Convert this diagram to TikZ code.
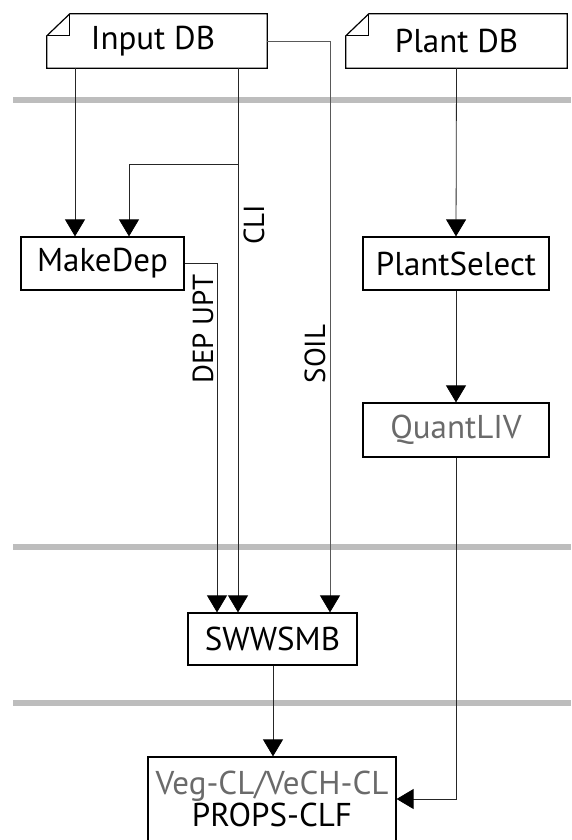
\documentclass[tikz,border=0pt]{standalone}
\usepackage{fontspec}
\setmainfont{PT Sans}
\usetikzlibrary{arrows.meta}
\definecolor{bargray}{HTML}{BDBDBD}
\definecolor{txtgray}{HTML}{6A6A6A}
\begin{document}
\begin{tikzpicture}[x=1pt,y=-1pt,
  boxtext/.style={font=\fontsize{33}{36}\selectfont},
  box/.style={boxtext, draw, line width=1.2pt, inner sep=0pt, align=center},
  dbnode/.style={boxtext, inner sep=0pt},
  lbl/.style={font=\fontsize{29}{32}\selectfont, rotate=90, inner sep=0pt},
  conn/.style={line width=0.8pt, draw=black!85},
  arr/.style={conn, -{Triangle[width=20pt,length=17pt,color=black]}},
  bar/.style={draw=bargray, line width=6pt}
]
\useasboundingbox (0,0) rectangle (571,840);
\clip (0,0) rectangle (571,840);

% separator bars
\draw[bar] (13,100) -- (571,100);
\draw[bar] (13,547) -- (571,547);
\draw[bar] (13,703) -- (571,703);

% column coordinates
\coordinate (cA) at (75,0);
\coordinate (cB) at (129,0);
\coordinate (cDEP) at (217,0);
\coordinate (cCLI) at (238,0);
\coordinate (cSOIL) at (330,0);
\coordinate (cS) at (273,0);
\coordinate (rCLI) at (0,164);

% database nodes (folded-corner documents)
\node[dbnode, minimum width=220pt, minimum height=54pt] (indb) at (157,41) {\hspace*{-8pt}Input DB};
\node[dbnode, minimum width=221pt, minimum height=54pt] (pldb) at (456.5,41) {Plant DB};
\foreach \n in {indb,pldb}{
  \draw[line width=1.2pt, line join=miter]
    ([xshift=23pt]\n.north west) -- (\n.north east) -- (\n.south east) -- (\n.south west)
    -- ([yshift=-22pt]\n.north west) -- cycle;
  \draw[line width=1.2pt]
    ([yshift=-22pt]\n.north west) -- ([xshift=23pt,yshift=-22pt]\n.north west) -- ([xshift=23pt]\n.north west);
}

% process boxes
\node[box, minimum width=163pt, minimum height=53pt] (makedep) at (102.5,263.5) {MakeDep};
\node[box, minimum width=186pt, minimum height=53pt] (plantsel) at (456,263.5) {PlantSelect};
\node[box, minimum width=186pt, minimum height=54pt, text=txtgray] (quantliv) at (456,430) {QuantLIV};
\node[box, minimum width=169pt, minimum height=52pt] (swwsmb) at (272.5,639) {SWWSMB};
\node[box, minimum width=248pt, minimum height=84pt] (props) at (272,799)
  {{\color{txtgray}Veg-CL/VeCH-CL}\\[-4pt]PROPS-CLF};

% connectors
\draw[arr] (indb.south -| cA) -- (makedep.north -| cA);
\draw[arr] (cCLI |- rCLI) -| (makedep.north -| cB);
\draw[arr] (indb.south -| cCLI) -- (swwsmb.north -| cCLI);
\draw[arr] (makedep.east) -| (swwsmb.north -| cDEP);
\draw[arr, draw=black!65] (indb.east) -| (swwsmb.north -| cSOIL);
\draw[arr] (pldb.south) -- (plantsel.north);
\draw[arr] (plantsel.south) -- (quantliv.north);
\draw[arr] (quantliv.south) |- (props.east);
\draw[arr] (swwsmb.south -| cS) -- (props.north -| cS);

% connector labels
\node[lbl] (lcli) at (254,225) {CLI};
\node[lbl] (ldep) at (203,329) {DEP UPT};
\node[lbl] (lsoil) at (315,354) {SOIL};
\end{tikzpicture}
\end{document}
